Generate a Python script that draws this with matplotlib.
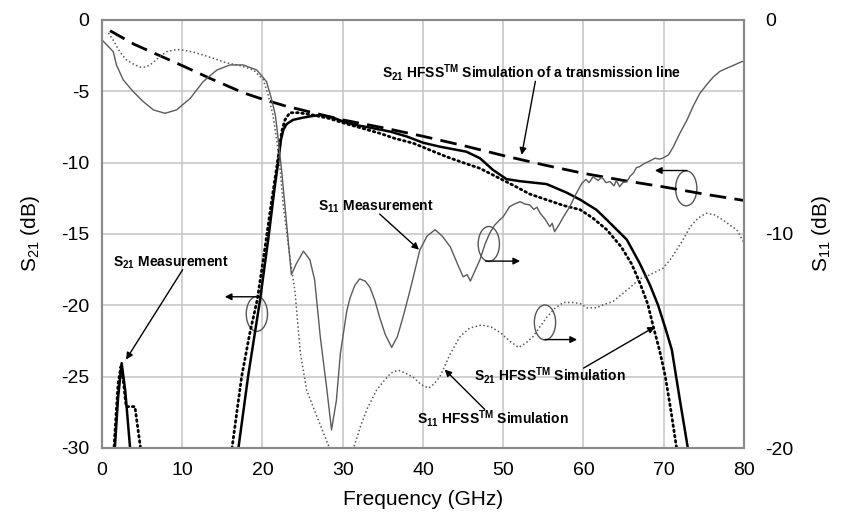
import numpy as np
import matplotlib
matplotlib.use('Agg')
from matplotlib import pyplot as plt
from matplotlib.patches import Ellipse

plt.rcParams['font.family'] = 'Liberation Sans'
plt.rcParams['mathtext.fontset'] = 'custom'
plt.rcParams['mathtext.rm'] = 'Liberation Sans'
plt.rcParams['mathtext.bf'] = 'Liberation Sans:bold'
plt.rcParams['axes.unicode_minus'] = False

# S21 HFSS simulation of a transmission line (left axis, dB)
line_f = [1.0, 4.0, 8.0, 10.0, 13.5, 17.6, 20.0, 23.0, 30.0, 35.0, 40.0, 45.0, 50.0,
          55.0, 60.0, 65.0, 70.0, 75.0, 80.0]
line_s21 = [-0.75, -1.7, -2.7, -3.2, -4.1, -5.1, -5.55, -6.05, -7.0, -7.55, -8.15, -8.8, -9.5,
            -10.15, -10.75, -11.25, -11.7, -12.2, -12.65]

# S21 measurement (left axis)
meas_spike_f = [1.5, 1.6, 2.0, 2.45, 2.9, 3.5, 3.6]
meas_spike_s21 = [-31.0, -30.0, -26.5, -24.05, -26.0, -30.0, -31.0]
meas_f = [16.6, 17.0, 18.2, 19.7, 20.8, 21.5, 21.9, 22.3, 22.6, 23.0, 23.8, 25.0, 26.0, 27.2,
          28.8, 30.5, 32.0, 33.8, 35.9, 38.0, 40.0, 42.1, 45.4, 47.1, 48.7, 50.4, 52.1, 55.4,
          57.9, 59.6, 61.6, 62.9, 65.4, 67.0, 68.3, 69.3, 70.2, 71.0, 72.0, 73.0, 73.3]
meas_s21 = [-31.5, -30.0, -25.0, -19.6, -15.0, -11.8, -10.2, -8.4, -7.7, -7.3, -7.0, -6.85, -6.75, -6.66,
            -6.85, -7.2, -7.4, -7.59, -7.82, -8.17, -8.6, -8.88, -9.23, -9.69, -10.5, -11.15, -11.3, -11.5,
            -12.1, -12.6, -13.3, -14.0, -15.4, -17.05, -18.6, -20.0, -21.6, -23.1, -26.6, -30.0, -31.5]

# S21 HFSS simulation (left axis)
sim_spike_f = [1.4, 1.6, 2.0, 2.35, 2.7, 3.0, 4.1, 4.8, 4.9]
sim_spike_s21 = [-31.0, -29.0, -25.5, -24.3, -25.5, -27.1, -27.1, -30.0, -31.0]
sim_f = [15.9, 16.2, 17.4, 18.4, 19.35, 20.3, 21.0, 21.8, 22.4, 22.8, 23.4, 24.5, 26.3, 28.3,
         30.5, 32.5, 34.6, 36.5, 38.8, 40.8, 42.9, 45.0, 47.1, 49.2, 51.3, 53.3, 55.4, 57.5,
         59.6, 61.2, 62.9, 64.7, 66.0, 67.0, 68.0, 68.7, 69.5, 70.2, 70.9, 71.6, 71.8]
sim_s21 = [-31.5, -30.0, -25.0, -22.0, -19.6, -16.0, -13.2, -10.2, -7.8, -7.0, -6.5, -6.5, -6.66, -6.9,
           -7.29, -7.6, -7.94, -8.3, -8.64, -9.1, -9.58, -10.0, -10.4, -11.0, -11.6, -12.2, -12.6, -13.0,
           -13.3, -13.9, -14.7, -15.9, -17.1, -18.4, -19.9, -21.5, -23.2, -25.0, -27.4, -30.0, -31.5]

# S11 measurement (right axis, dB)
s11_meas_f = [0.0, 1.4, 1.8, 2.65, 3.9, 5.1, 6.4, 7.85, 9.3, 11.0, 12.6, 14.3, 15.95, 17.6, 19.3,
              20.5, 21.1, 21.6, 22.0, 22.4, 23.2, 23.6, 24.2, 25.1, 25.9, 26.5, 27.2, 28.0, 28.6,
              29.2, 29.7, 30.1, 30.5, 30.9, 31.5, 32.1, 32.8, 33.4, 34.0, 34.6, 35.3, 36.1, 36.8,
              37.5, 38.2, 38.8, 39.6, 40.5, 41.5, 42.4, 43.4, 44.3, 45.0, 45.5, 45.9, 46.5, 47.1,
              47.7, 48.3, 48.9, 49.4, 50.0, 50.4, 50.8, 51.4, 52.1, 52.7, 53.3, 53.8, 54.2, 54.6,
              55.2, 55.8, 56.1, 56.4, 56.9, 57.5, 58.3, 59.1, 59.8, 60.3, 60.7, 61.2, 61.8, 62.3,
              62.8, 63.3, 63.8, 64.1, 64.5, 64.9, 65.4, 65.8, 66.2, 66.6, 67.0, 67.6, 68.2, 68.9,
              69.5, 69.9, 70.6, 71.2, 72.0, 72.9, 73.7, 74.5, 75.4, 76.2, 77.0, 77.8, 78.8, 79.7, 80.0]
s11_meas = [-0.93, -1.48, -2.1, -2.8, -3.35, -3.8, -4.2, -4.36, -4.2, -3.66, -2.88, -2.34, -2.1, -2.1, -2.34,
            -2.88, -3.66, -4.44, -5.7, -7.1, -10.3, -11.9, -11.4, -10.8, -11.2, -12.15, -14.8, -17.2, -19.15,
            -17.8, -15.6, -14.6, -13.6, -13.0, -12.4, -12.1, -12.2, -12.5, -13.1, -13.9, -14.7, -15.3, -14.8,
            -13.9, -12.9, -12.0, -10.75, -10.1, -9.8, -10.1, -10.6, -11.4, -12.0, -11.9, -12.2, -11.7, -11.2,
            -10.5, -9.97, -9.6, -9.4, -9.19, -8.95, -8.72, -8.6, -8.49, -8.6, -8.64, -8.85, -8.75, -9.03,
            -9.3, -9.66, -9.5, -9.89, -9.6, -9.2, -8.72, -8.1, -7.63, -7.45, -7.6, -7.32, -7.5, -7.35,
            -7.6, -7.55, -7.75, -7.5, -7.79, -7.6, -7.55, -7.3, -7.16, -6.9, -6.85, -6.7, -6.6, -6.46,
            -6.5, -6.45, -6.3, -5.92, -5.3, -4.67, -4.0, -3.43, -3.0, -2.65, -2.4, -2.26, -2.1, -1.95, -1.93]

# S11 HFSS simulation (right axis)
s11_sim_f = [0.8, 1.5, 2.2, 3.0, 3.7, 4.7, 5.4, 6.0, 7.2, 8.05, 9.0, 9.7, 11.4, 13.9, 15.5, 17.2,
             18.9, 20.1, 20.7, 21.3, 21.8, 22.2, 22.6, 23.4, 24.05, 24.7, 25.5, 26.75, 27.6, 28.3,
             29.0, 29.9, 30.8, 31.4, 32.2, 33.0, 34.2, 35.05, 36.0, 36.9, 37.8, 38.8, 39.8, 40.7,
             41.4, 42.1, 43.4, 44.6, 45.8, 47.3, 48.5, 49.6, 50.8, 51.9, 52.8, 53.7, 55.4, 56.5,
             57.5, 58.7, 59.6, 60.4, 61.6, 62.5, 63.7, 64.5, 65.8, 67.0, 68.3, 69.9, 70.8, 71.6,
             72.5, 73.3, 74.3, 75.3, 76.3, 77.4, 78.3, 79.1, 79.9]
s11_sim = [-0.6, -1.0, -1.48, -1.85, -2.02, -2.2, -2.2, -2.1, -1.71, -1.48, -1.4, -1.38, -1.5, -1.79, -2.0, -2.13,
           -2.34, -2.8, -3.5, -4.44, -5.7, -7.0, -8.72, -11.06, -12.7, -15.5, -17.3, -18.5, -19.3, -19.95,
           -20.6, -20.9, -20.5, -19.95, -19.0, -18.2, -17.3, -16.9, -16.5, -16.36, -16.5, -16.7, -17.05, -17.2,
           -17.0, -16.67, -15.6, -14.8, -14.4, -14.25, -14.35, -14.6, -15.0, -15.3, -15.1, -14.8, -13.9, -13.45,
           -13.2, -13.2, -13.25, -13.45, -13.45, -13.3, -13.15, -12.9, -12.5, -12.1, -11.9, -11.6, -11.2, -10.75,
           -10.2, -9.66, -9.25, -9.03, -9.1, -9.35, -9.6, -9.8, -10.35]

fig = plt.figure(figsize=(8.45, 5.12), dpi=100)
ax = fig.add_axes([102 / 845, 1 - 448 / 512, (744 - 102) / 845, (448 - 20) / 512])
ax2 = ax.twinx()

# left axis curves
ax.plot(line_f, line_s21, color='black', lw=2.0, dashes=(6, 3))
ax.plot(meas_spike_f, meas_spike_s21, color='black', lw=1.8)
ax.plot(meas_f, meas_s21, color='black', lw=1.8)
ax.plot(sim_spike_f, sim_spike_s21, color='black', lw=2.0, linestyle=(0, (0.6, 1.3)), dash_capstyle='round')
ax.plot(sim_f, sim_s21, color='black', lw=2.0, linestyle=(0, (0.6, 1.3)), dash_capstyle='round')

# right axis curves
ax2.plot(s11_meas_f, s11_meas, color='#5a5a5a', lw=1.0)
ax2.plot(s11_sim_f, s11_sim, color='#5a5a5a', lw=1.1, linestyle=(0, (1, 1.6)))

ax.set_xlim(0, 80)
ax.set_ylim(-30, 0)
ax2.set_ylim(-20, 0)
ax.set_xticks(range(0, 81, 10))
ax.set_yticks(range(-30, 1, 5))
ax2.set_yticks([-20, -10, 0])
ax.grid(True, color='#c8c8c8', lw=1.2)
ax.set_axisbelow(True)

for a in (ax, ax2):
    for s in a.spines.values():
        s.set_color('#8a8a8a')
        s.set_linewidth(1.5)
ax.tick_params(axis='both', length=0, labelsize=14)
ax.tick_params(axis='y', pad=9)
ax.tick_params(axis='x', pad=10)
ax2.tick_params(axis='y', length=0, labelsize=14, pad=15)

ax.set_xlabel('Frequency (GHz)', fontsize=15, labelpad=8)
ax.set_ylabel(r'S$_{\mathregular{21}}$ (dB)', fontsize=15, labelpad=14)
ax2.set_ylabel(r'S$_{\mathregular{11}}$ (dB)', fontsize=15, labelpad=12)

# annotations
fs = 10
tm = r'HFSS$^{\mathbf{TM}}$'
ax.text(34.9, -3.71, r'S$_{\mathbf{21}}$ ' + tm + ' Simulation of a transmission line',
        fontsize=fs, fontweight='bold', va='center')
ax.text(26.95, -13.1, r'S$_{\mathbf{11}}$ Measurement', fontsize=fs, fontweight='bold', va='center')
ax.text(1.4, -17.05, r'S$_{\mathbf{21}}$ Measurement', fontsize=fs, fontweight='bold', va='center')
ax.text(39.2, -27.9, r'S$_{\mathbf{11}}$ ' + tm + ' Simulation', fontsize=fs, fontweight='bold', va='center')
ax.text(46.3, -24.95, r'S$_{\mathbf{21}}$ ' + tm + ' Simulation', fontsize=fs, fontweight='bold', va='center')

arrows = [((54.0, -4.3), (52.3, -9.45)),
          ((34.6, -13.6), (39.5, -16.1)),
          ((10.05, -17.5), (3.0, -23.8)),
          ((47.7, -27.3), (42.7, -24.5)),
          ((60.0, -24.4), (68.9, -21.5)),
          ((19.6, -19.4), (15.3, -19.4)),
          ((47.8, -16.9), (52.1, -16.9)),
          ((55.2, -22.4), (59.2, -22.4)),
          ((72.9, -10.55), (68.9, -10.55))]
for tail, tip in arrows:
    ax.annotate('', xy=tip, xytext=tail,
                arrowprops=dict(arrowstyle='-|>', color='black', lw=1.0, mutation_scale=10,
                                shrinkA=0, shrinkB=0))

for c in [(19.3, -20.6), (48.2, -15.7), (55.2, -21.2), (72.8, -11.8)]:
    ax.add_patch(Ellipse(c, 2.65, 2.45, fill=False, edgecolor='#555555', lw=1.0))

plt.savefig('out.png', dpi=100)
